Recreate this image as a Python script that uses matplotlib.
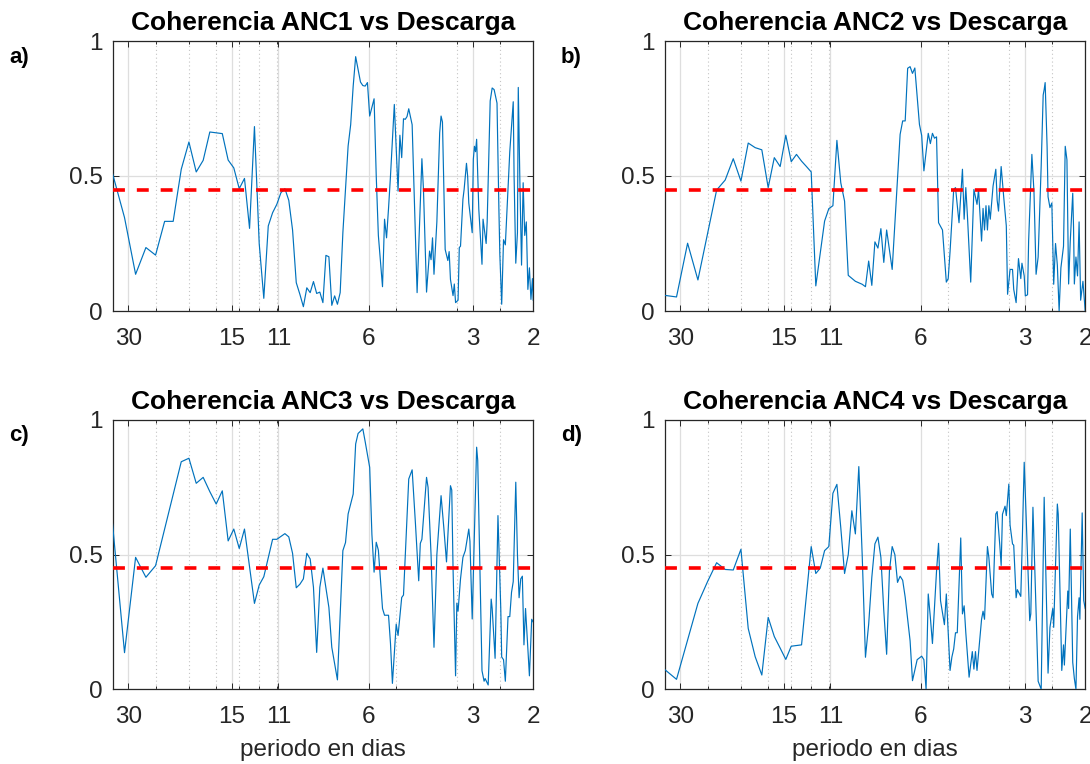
import numpy as np
import matplotlib
matplotlib.use("Agg")
import matplotlib.pyplot as plt
from matplotlib.ticker import FixedLocator, NullFormatter

plt.rcParams['font.family'] = ['Liberation Sans', 'DejaVu Sans']

# Spectral bins (frequency = bin / N_FFT, cycles per day) and coherence values
N_FFT = 400

bins_anc1 = [12, 13, 14, 15, 16, 17, 18, 19, 20, 21, 22, 23, 25, 26, 27, 28, 29, 30, 31, 32,
             33, 34, 35, 36, 37, 38, 39, 40, 41, 42, 43, 44, 45, 46, 47, 48, 49, 50, 51, 52,
             53, 54, 55, 56, 58, 59, 60, 61, 63, 64, 65, 66, 67, 69, 70, 71, 73, 74, 75, 76,
             77, 78, 79, 81, 82, 83, 84, 85, 86, 87, 89, 92, 95, 96, 98, 100, 101, 102, 103, 105,
             107, 108, 109, 111, 113, 114, 115, 117, 118, 119, 121, 122, 123, 125, 126, 128, 129, 130, 133, 134,
             135, 136, 137, 139, 142, 143, 146, 147, 150, 152, 154, 157, 159, 160, 162, 164, 166, 167, 171, 175,
             176, 178, 180, 181, 183, 185, 187, 189, 191, 193, 195, 197, 199, 200]
coh_anc1 = [0.509, 0.346, 0.136, 0.235, 0.207, 0.332, 0.332, 0.525, 0.626, 0.515, 0.558, 0.663, 0.657, 0.559, 0.530, 0.453, 0.491, 0.306, 0.683, 0.25,
            0.047, 0.315, 0.364, 0.395, 0.438, 0.453, 0.41, 0.30, 0.105, 0.062, 0.016, 0.086, 0.068, 0.109, 0.065, 0.070, 0.031, 0.206, 0.201, 0.021,
            0.056, 0.025, 0.068, 0.29, 0.611, 0.69, 0.833, 0.942, 0.848, 0.835, 0.833, 0.846, 0.722, 0.786, 0.50, 0.28, 0.09, 0.34, 0.271, 0.38,
            0.50, 0.63, 0.765, 0.444, 0.651, 0.568, 0.712, 0.71, 0.72, 0.749, 0.69, 0.068, 0.564, 0.45, 0.07, 0.222, 0.19, 0.271, 0.136, 0.33,
            0.66, 0.722, 0.70, 0.228, 0.187, 0.22, 0.117, 0.057, 0.10, 0.031, 0.04, 0.235, 0.24, 0.414, 0.45, 0.547, 0.50, 0.40, 0.29, 0.562,
            0.61, 0.59, 0.636, 0.377, 0.173, 0.34, 0.25, 0.33, 0.778, 0.826, 0.82, 0.77, 0.377, 0.21, 0.025, 0.264, 0.245, 0.316, 0.59, 0.775,
            0.5, 0.177, 0.29, 0.828, 0.47, 0.17, 0.475, 0.28, 0.33, 0.08, 0.16, 0.043, 0.12, 0.04]

bins_anc2 = [12, 13, 14, 15, 17, 18, 19, 20, 21, 22, 23, 24, 25, 26, 27, 28, 29, 30, 31, 32,
             33, 35, 36, 37, 38, 39, 40, 41, 43, 45, 46, 47, 48, 49, 50, 51, 52, 53, 55, 58,
             59, 60, 61, 62, 63, 64, 66, 67, 68, 70, 71, 72, 73, 74, 75, 77, 79, 80, 81, 83,
             84, 86, 88, 89, 90, 91, 93, 95, 97, 98, 100, 101, 102, 103, 104, 105, 106, 108, 110, 111,
             112, 114, 116, 118, 119, 121, 123, 124, 126, 128, 130, 131, 133, 134, 136, 137, 140, 142, 144, 146,
             149, 151, 152, 153, 155, 156, 158, 160, 162, 164, 166, 168, 170, 173, 175, 177, 179, 181, 184, 185,
             186, 188, 190, 192, 194, 197, 200]
coh_anc2 = [0.058, 0.052, 0.251, 0.115, 0.448, 0.485, 0.564, 0.481, 0.622, 0.605, 0.597, 0.457, 0.568, 0.535, 0.651, 0.553, 0.580, 0.555, 0.535, 0.515,
            0.093, 0.333, 0.379, 0.39, 0.632, 0.475, 0.407, 0.132, 0.11, 0.099, 0.09, 0.185, 0.095, 0.256, 0.233, 0.305, 0.18, 0.30, 0.154, 0.654,
            0.704, 0.704, 0.899, 0.905, 0.88, 0.90, 0.691, 0.65, 0.519, 0.658, 0.62, 0.658, 0.64, 0.645, 0.327, 0.30, 0.107, 0.12, 0.22, 0.45,
            0.457, 0.327, 0.525, 0.34, 0.457, 0.35, 0.107, 0.45, 0.395, 0.45, 0.259, 0.38, 0.30, 0.39, 0.30, 0.39, 0.34, 0.463, 0.525, 0.41,
            0.37, 0.535, 0.42, 0.315, 0.062, 0.154, 0.154, 0.08, 0.031, 0.194, 0.12, 0.177, 0.13, 0.056, 0.06, 0.26, 0.58, 0.44, 0.136, 0.20,
            0.537, 0.80, 0.82, 0.846, 0.61, 0.423, 0.383, 0.40, 0.099, 0.25, 0.17, 0.0, 0.16, 0.24, 0.61, 0.56, 0.10, 0.26, 0.436, 0.31,
            0.10, 0.2, 0.13, 0.33, 0.04, 0.11, 0.0]

bins_anc3 = [12, 13, 14, 15, 16, 19, 20, 21, 22, 23, 24, 25, 26, 27, 28, 29, 31, 32, 33, 35,
             36, 38, 39, 40, 41, 42, 43, 44, 45, 46, 47, 48, 49, 51, 52, 54, 56, 57, 58, 60,
             61, 62, 64, 65, 67, 68, 69, 70, 71, 73, 74, 76, 77, 78, 80, 81, 83, 84, 87, 89,
             91, 93, 94, 95, 98, 99, 101, 103, 105, 108, 110, 112, 115, 116, 117, 119, 120, 121, 123, 125,
             127, 130, 131, 133, 137, 138, 142, 144, 145, 148, 151, 152, 155, 158, 161, 162, 164, 166, 169, 171,
             173, 175, 178, 180, 182, 184, 186, 188, 190, 193, 195, 198, 200]
coh_anc3 = [0.614, 0.136, 0.49, 0.416, 0.459, 0.845, 0.858, 0.765, 0.787, 0.734, 0.688, 0.737, 0.551, 0.595, 0.523, 0.595, 0.319, 0.387, 0.418, 0.557,
            0.557, 0.578, 0.566, 0.505, 0.377, 0.39, 0.41, 0.505, 0.484, 0.379, 0.137, 0.379, 0.45, 0.304, 0.156, 0.035, 0.515, 0.545, 0.651, 0.725,
            0.911, 0.95, 0.967, 0.92, 0.824, 0.575, 0.435, 0.546, 0.517, 0.30, 0.275, 0.275, 0.17, 0.022, 0.242, 0.20, 0.341, 0.35, 0.781, 0.815,
            0.614, 0.403, 0.542, 0.557, 0.787, 0.75, 0.50, 0.156, 0.50, 0.719, 0.60, 0.473, 0.756, 0.74, 0.45, 0.05, 0.32, 0.29, 0.41, 0.49,
            0.515, 0.595, 0.55, 0.261, 0.899, 0.85, 0.069, 0.03, 0.04, 0.016, 0.335, 0.30, 0.115, 0.645, 0.30, 0.12, 0.11, 0.03, 0.27, 0.27,
            0.36, 0.40, 0.769, 0.5, 0.34, 0.41, 0.42, 0.165, 0.30, 0.15, 0.05, 0.26, 0.25]

bins_anc4 = [12, 13, 15, 16, 17, 18, 19, 20, 21, 22, 23, 24, 25, 26, 27, 28, 30, 32, 33, 34,
             35, 36, 37, 38, 39, 40, 41, 42, 43, 44, 45, 46, 47, 48, 49, 50, 51, 52, 53, 54,
             55, 56, 57, 58, 59, 60, 62, 63, 65, 67, 68, 69, 70, 71, 72, 74, 75, 76, 78, 79,
             81, 82, 83, 84, 85, 87, 88, 89, 90, 92, 94, 95, 96, 97, 100, 101, 102, 104, 105, 107,
             108, 110, 111, 113, 114, 115, 117, 118, 120, 121, 123, 124, 126, 127, 130, 131, 133, 135, 138, 139,
             141, 145, 146, 149, 152, 156, 158, 161, 162, 166, 167, 171, 173, 174, 178, 179, 181, 184, 186, 188,
             190, 192, 193, 196, 198, 200]
coh_anc4 = [0.074, 0.037, 0.319, 0.40, 0.47, 0.445, 0.443, 0.52, 0.226, 0.121, 0.053, 0.267, 0.196, 0.153, 0.111, 0.16, 0.165, 0.53, 0.43, 0.45,
            0.515, 0.53, 0.728, 0.761, 0.6, 0.43, 0.5, 0.663, 0.577, 0.827, 0.50, 0.119, 0.242, 0.416, 0.54, 0.565, 0.49, 0.292, 0.13, 0.44,
            0.53, 0.50, 0.397, 0.42, 0.405, 0.342, 0.18, 0.032, 0.11, 0.123, 0.11, 0.0, 0.354, 0.267, 0.17, 0.44, 0.542, 0.329, 0.24, 0.354,
            0.07, 0.12, 0.15, 0.21, 0.21, 0.562, 0.28, 0.31, 0.21, 0.045, 0.14, 0.075, 0.14, 0.07, 0.26, 0.29, 0.26, 0.53, 0.49, 0.354,
            0.34, 0.651, 0.66, 0.533, 0.46, 0.65, 0.68, 0.645, 0.762, 0.61, 0.54, 0.535, 0.34, 0.37, 0.345, 0.50, 0.843, 0.61, 0.255, 0.28,
            0.676, 0.16, 0.03, 0.0, 0.713, 0.06, 0.23, 0.30, 0.23, 0.688, 0.65, 0.07, 0.165, 0.09, 0.365, 0.3, 0.595, 0.10, 0.04, 0.0,
            0.27, 0.34, 0.26, 0.655, 0.33, 0.3]

panels = [
    ("a)", "Coherencia ANC1 vs Descarga", bins_anc1, coh_anc1),
    ("b)", "Coherencia ANC2 vs Descarga", bins_anc2, coh_anc2),
    ("c)", "Coherencia ANC3 vs Descarga", bins_anc3, coh_anc3),
    ("d)", "Coherencia ANC4 vs Descarga", bins_anc4, coh_anc4),
]

threshold = 0.45
period_ticks = [30, 15, 11, 6, 3, 2]
period_labels = ["30", "15", "11", "6", "3", "2"]
minor_freqs = [0.04, 0.05, 0.06, 0.07, 0.08, 0.09, 0.2, 0.3, 0.4]
f_min, f_max = 0.03, 0.5

W, H = 1090, 764
fig = plt.figure(figsize=(W / 100, H / 100), dpi=100)

ax_left = [112.55, 664.55]
ax_top = [41.0, 420.0]
ax_bottom = [311.0, 689.3]
ax_w = 420.65

dark = "#262626"
blue = "#0072BD"

for i, (tag, title, bins, coh) in enumerate(panels):
    r, c = divmod(i, 2)
    x0 = ax_left[c]
    y_top, y_bot = ax_top[r], ax_bottom[r]
    ax = fig.add_axes([x0 / W, 1 - y_bot / H, ax_w / W, (y_bot - y_top) / H])

    freq = np.asarray(bins, dtype=float) / N_FFT
    ax.plot(freq, coh, color=blue, lw=0.85, zorder=3)
    ax.plot([f_min, f_max], [threshold, threshold], color="red", lw=2.6,
            dashes=(3.3, 3.3), zorder=4)

    ax.set_xscale("log")
    ax.set_xlim(f_min, f_max)
    ax.set_ylim(0, 1)

    ax.xaxis.set_major_locator(FixedLocator([1.0 / p for p in period_ticks]))
    ax.set_xticklabels(period_labels)
    ax.xaxis.set_minor_locator(FixedLocator(minor_freqs))
    ax.xaxis.set_minor_formatter(NullFormatter())
    ax.set_yticks([0, 0.5, 1])
    ax.set_yticklabels(["0", "0.5", "1"])

    ax.grid(True, which="major", color="#dedede", lw=0.9, ls="-", zorder=0)
    ax.grid(True, which="minor", axis="x", color="#c4c4c4", lw=0.8,
            ls=(0, (1, 2.5)), zorder=0)
    ax.set_axisbelow(True)

    ax.tick_params(which="both", direction="in", top=True, right=True,
                   color=dark, width=0.7, labelcolor=dark, labelsize=17.5)
    ax.tick_params(which="major", length=4)
    ax.tick_params(which="minor", length=2.5)
    ax.tick_params(axis="x", which="major", pad=12)
    ax.tick_params(axis="y", which="major", pad=7)
    for s in ax.spines.values():
        s.set_color(dark)
        s.set_linewidth(0.9)

    ax.set_title(title, fontsize=19, fontweight="bold", pad=8, color="black")
    if r == 1:
        ax.set_xlabel("periodo en dias", fontsize=17.5, color=dark, labelpad=8)

    fig.text((9.0 + (x0 - 112.55)) / W, 1 - (y_top + 16) / H, tag,
             fontsize=16, fontweight="bold", va="center", ha="left")

fig.savefig("out.png", dpi=100)
